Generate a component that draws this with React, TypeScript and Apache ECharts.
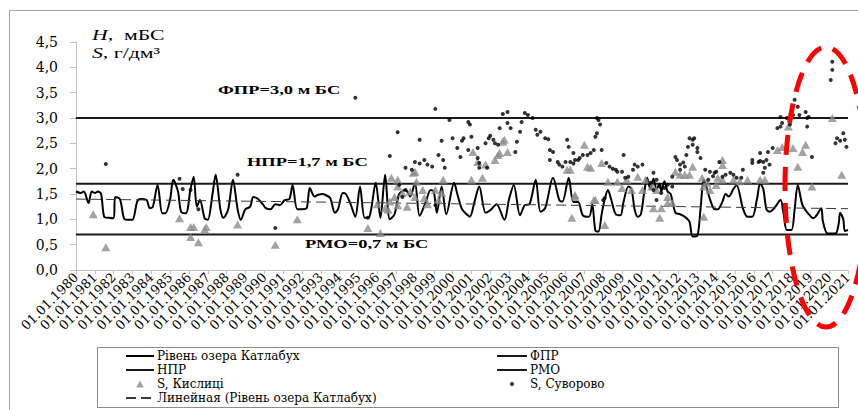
import React, { useEffect, useRef } from 'react';
import * as echarts from 'echarts';

// x values are months counted from 01.01.1980
const START_YEAR = 1980;
const END_MONTH = 492;

const yMin = 0;
const yMax = 4.5;
const yInterval = 0.5;

const fprLevel = 3.0;
const nprLevel = 1.7;
const rmoLevel = 0.7;

const levelData: [number, number][] = [
  [0, 1.55], [3, 1.52], [5, 1.55], [8, 1.32], [10, 1.55], [12, 1.52], [14, 1.55], [16, 1.5], [18, 1.05], [21, 1.03],
  [24, 1.02], [25, 1.44], [28, 1.4], [31, 1.0], [34, 0.99], [36, 0.99], [39, 1.35], [41, 1.4], [45, 1.38], [47, 1.22],
  [49, 1.25], [52, 1.68], [55, 1.12], [57, 1.12], [60, 1.4], [62, 1.78], [65, 1.55], [67, 1.15], [70, 1.12], [73, 1.6],
  [75, 1.84], [77, 1.25], [79, 1.38], [82, 1.02], [84, 0.99], [87, 1.5], [89, 1.88], [92, 1.2], [94, 1.03], [97, 1.2],
  [100, 1.78], [103, 1.2], [105, 0.99], [108, 1.2], [111, 1.25], [113, 1.44], [116, 1.4], [119, 1.3], [121, 1.22], [124, 1.2],
  [127, 1.3], [130, 1.28], [133, 1.38], [136, 1.4], [138, 1.68], [141, 1.2], [144, 1.2], [147, 1.22], [149, 1.62], [152, 1.45],
  [154, 1.48], [157, 1.5], [159, 1.48], [162, 1.42], [165, 1.13], [167, 1.2], [170, 1.52], [172, 1.5], [175, 1.3], [178, 1.05],
  [181, 1.65], [184, 1.03], [187, 1.05], [191, 1.72], [194, 1.03], [197, 1.88], [200, 1.0], [203, 1.1], [206, 1.5], [210, 1.58],
  [213, 1.45], [216, 1.72], [219, 1.07], [223, 1.35], [226, 1.58], [228, 1.55], [230, 1.13], [233, 1.65], [236, 1.1], [241, 1.72],
  [243, 1.5], [246, 1.2], [249, 1.1], [251, 1.05], [254, 1.35], [257, 1.65], [261, 1.13], [264, 1.18], [268, 1.3], [273, 0.99],
  [276, 1.4], [279, 1.68], [283, 1.08], [286, 1.28], [289, 1.3], [293, 1.78], [296, 1.15], [299, 1.22], [304, 1.82], [308, 1.38],
  [310, 1.35], [314, 1.82], [317, 1.34], [320, 1.34], [323, 1.08], [327, 1.05], [329, 1.3], [331, 0.78], [333, 0.76], [335, 1.1],
  [337, 1.4], [339, 1.58], [341, 1.4], [344, 1.1], [347, 1.08], [349, 1.35], [352, 1.65], [354, 1.6], [356, 1.2], [358, 1.05],
  [360, 1.1], [362, 1.5], [364, 1.82], [366, 1.6], [368, 1.8], [370, 1.6], [372, 1.7], [373, 1.55], [375, 1.75], [377, 1.55],
  [379, 1.5], [382, 1.13], [385, 1.1], [388, 1.05], [391, 0.95], [393, 0.66], [396, 0.68], [398, 1.2], [400, 1.78], [401, 1.72],
  [404, 1.4], [407, 1.2], [409, 1.2], [412, 1.35], [414, 1.5], [416, 1.45], [419, 1.6], [421, 1.68], [425, 1.22], [428, 1.05],
  [431, 1.05], [434, 1.4], [436, 1.71], [438, 1.6], [440, 1.2], [442, 1.15], [445, 1.22], [449, 1.38], [451, 1.1], [453, 0.79],
  [456, 0.79], [458, 1.2], [460, 1.68], [463, 1.28], [467, 1.1], [470, 1.02], [472, 1.08], [475, 1.22], [476, 0.96], [479, 0.72],
  [484, 0.72], [486, 0.9], [487, 1.13], [489, 1.0], [490, 0.77], [492, 0.79],
];

const suvorovoData: [number, number][] = [
  [19, 2.09], [66, 1.8], [68, 1.6], [73, 1.58], [78, 1.2], [103, 1.88], [127, 0.83], [178, 3.4], [186, 1.03], [200, 2.25],
  [205, 2.72], [206, 1.68], [208, 1.44], [210, 1.58], [210, 2.02], [214, 1.98], [216, 2.13], [219, 2.57], [219, 2.1], [222, 2.17],
  [224, 2.08], [227, 2.04], [229, 1.28], [229, 3.18], [231, 2.27], [233, 2.55], [234, 2.17], [235, 2.02], [238, 2.96], [240, 2.6],
  [243, 2.41], [245, 2.23], [246, 2.55], [247, 2.6], [250, 2.92], [250, 2.37], [251, 2.87], [252, 2.63], [256, 2.21], [256, 2.41],
  [257, 2.11], [257, 2.02], [261, 2.5], [262, 2.02], [263, 2.6], [264, 2.65], [266, 2.57], [267, 2.5], [269, 2.47], [270, 2.8],
  [272, 3.08], [275, 3.12], [275, 2.9], [277, 2.8], [280, 2.33], [281, 2.53], [283, 2.73], [284, 2.92], [286, 3.1], [288, 3.06],
  [291, 3.0], [293, 2.77], [294, 2.67], [296, 2.73], [299, 2.6], [301, 2.58], [302, 2.37], [302, 2.17], [304, 2.33], [307, 2.13],
  [308, 2.08], [310, 2.04], [312, 2.13], [313, 2.57], [314, 2.43], [315, 2.13], [317, 2.31], [317, 2.1], [318, 2.17], [320, 2.17],
  [321, 2.21], [323, 2.27], [326, 2.27], [328, 2.31], [330, 2.37], [331, 2.63], [332, 2.7], [332, 3.0], [333, 2.96], [334, 2.87],
  [335, 2.37], [336, 1.38], [337, 1.42], [338, 2.11], [340, 2.04], [342, 2.0], [344, 1.98], [345, 1.94], [348, 1.94], [349, 2.27],
  [350, 1.82], [352, 1.84], [355, 1.98], [356, 2.08], [358, 2.04], [361, 2.08], [366, 1.72], [368, 1.92], [368, 1.58], [370, 1.78],
  [370, 1.38], [372, 1.65], [373, 1.52], [375, 1.62], [377, 1.68], [380, 1.65], [380, 1.84], [382, 2.23], [383, 2.17], [385, 2.08],
  [385, 1.98], [387, 2.12], [388, 2.04], [389, 2.27], [390, 2.43], [391, 2.6], [393, 2.57], [393, 2.47], [394, 2.6], [396, 2.41],
  [396, 2.33], [398, 2.21], [401, 1.98], [403, 1.78], [404, 1.94], [406, 1.85], [407, 1.92], [408, 1.94], [410, 2.13], [412, 1.84],
  [414, 1.88], [417, 1.92], [419, 1.88], [421, 1.82], [424, 1.82], [425, 1.98], [431, 2.17], [431, 2.11], [435, 2.13], [436, 2.31],
  [436, 2.15], [438, 2.13], [438, 1.92], [439, 2.02], [440, 2.17], [441, 2.33], [442, 2.08], [444, 2.41], [447, 2.8], [449, 2.83],
  [449, 3.02], [450, 2.9], [453, 3.0], [455, 2.87], [457, 3.06], [458, 3.36], [460, 3.22], [461, 3.06], [465, 3.12], [466, 3.0],
  [466, 2.83], [467, 3.02], [469, 2.23], [481, 3.75], [482, 4.11], [482, 3.95], [484, 2.5], [485, 2.6], [487, 2.55], [489, 2.7],
  [490, 2.57], [491, 2.43],
];

const kyslytsiData: [number, number][] = [
  [11, 1.1], [19, 0.45], [66, 1.02], [73, 0.85], [75, 0.85], [73, 0.65], [78, 0.55], [82, 0.8], [83, 0.85], [103, 0.9],
  [127, 0.5], [141, 1.0], [186, 0.83], [194, 0.73], [201, 1.82], [216, 1.94], [205, 1.65], [208, 1.52], [203, 1.44], [197, 1.22],
  [199, 1.19], [211, 1.25], [216, 1.44], [221, 1.58], [222, 1.42], [229, 1.58], [233, 1.52], [234, 1.78], [231, 1.38], [205, 1.28],
  [217, 1.74], [192, 1.3], [200, 1.35], [213, 1.55], [224, 1.3], [205, 1.78], [215, 1.92], [253, 2.33], [256, 2.13], [261, 2.08],
  [267, 2.17], [269, 2.27], [270, 2.31], [272, 2.53], [273, 2.57], [275, 2.33], [252, 1.78], [259, 1.82], [315, 1.98], [324, 2.47],
  [328, 2.02], [318, 1.44], [316, 1.03], [331, 1.38], [335, 2.11], [339, 1.74], [345, 1.74], [348, 1.62], [351, 1.78], [354, 1.58],
  [358, 1.84], [363, 1.78], [367, 1.65], [370, 1.58], [368, 1.22], [372, 1.03], [377, 1.44], [380, 1.32], [382, 1.94], [385, 1.88],
  [388, 1.88], [391, 1.88], [393, 2.04], [399, 1.82], [400, 1.65], [402, 1.72], [404, 1.58], [400, 1.05], [408, 1.68], [409, 1.82],
  [337, 0.89], [361, 1.58], [313, 1.98], [326, 2.04], [318, 1.48], [330, 1.38], [373, 1.22], [377, 1.32], [412, 2.17], [412, 2.07],
  [412, 1.78], [419, 1.78], [423, 1.75], [428, 1.78], [436, 1.78], [439, 1.78], [447, 2.37], [450, 2.43], [454, 2.83], [457, 2.41],
  [463, 2.33], [465, 2.47], [460, 2.04], [469, 1.65], [482, 3.0], [488, 1.88],
];

const trendData: [number, number][] = [
  [0, 1.4],
  [492, 1.21],
];

const NAME_LEVEL = 'Рівень озера Катлабух';
const NAME_FPR = 'ФПР';
const NAME_NPR = 'НПР';
const NAME_RMO = 'РМО';
const NAME_KYS = 'S, Кислиці';
const NAME_SUV = 'S, Суворово';
const NAME_TREND = 'Линейная (Рівень озера Катлабух)';

const SERIF = '"Liberation Serif", "Times New Roman", serif';
const AXIS_FONT = '"DejaVu Serif", serif';

export default function App() {
  const ref = useRef<HTMLDivElement>(null);

  useEffect(() => {
    if (!ref.current) return;
    const chart = echarts.init(ref.current, null, { renderer: 'svg' });
    const flat = (v: number): [number, number][] => [
      [0, v],
      [END_MONTH, v],
    ];
    const hideSym = { opacity: 0 };
    const legendText = { fontFamily: AXIS_FONT, fontSize: 12, color: '#000', lineHeight: 14, padding: [0, 0, 0, -2] };
    chart.setOption({
      animation: false,
      backgroundColor: '#fff',
      grid: { left: 76, right: 10, top: 42, bottom: 140, containLabel: false },
      xAxis: {
        type: 'value',
        min: 0,
        max: END_MONTH,
        interval: 12,
        axisLine: { show: true, lineStyle: { color: '#bfbfbf', width: 1 } },
        axisTick: { show: true, length: 4, lineStyle: { color: '#bfbfbf' } },
        splitLine: { show: false },
        axisLabel: {
          rotate: 45,
          margin: 5,
          showMinLabel: true,
          showMaxLabel: true,
          color: '#000',
          fontFamily: AXIS_FONT,
          fontSize: 13,
          formatter: (v: number) => '01.01.' + (START_YEAR + Math.round(v / 12)),
        },
      },
      yAxis: {
        type: 'value',
        min: yMin,
        max: yMax,
        interval: yInterval,
        axisLine: { show: true, lineStyle: { color: '#bfbfbf', width: 1 } },
        axisTick: { show: true, length: 6, lineStyle: { color: '#bfbfbf' } },
        splitLine: { show: false },
        axisLabel: {
          margin: 18,
          color: '#000',
          fontFamily: AXIS_FONT,
          fontSize: 14,
          formatter: (v: number) => v.toFixed(1).replace('.', ','),
        },
      },
      legend: [
        {
          orient: 'vertical',
          left: 125,
          top: 349,
          height: 60,
          padding: 0,
          itemWidth: 28,
          itemHeight: 7,
          itemGap: 0,
          selectedMode: false,
          symbolKeepAspect: true,
          textStyle: legendText,
          data: [
            { name: NAME_LEVEL, itemStyle: hideSym },
            { name: NAME_NPR, itemStyle: hideSym },
            { name: NAME_KYS, icon: 'path://M5,0L10,9L0,9Z' },
            { name: NAME_TREND, itemStyle: hideSym },
          ],
        },
        {
          orient: 'vertical',
          left: 496,
          top: 349,
          height: 60,
          padding: 0,
          itemWidth: 30,
          itemHeight: 4,
          itemGap: 0,
          selectedMode: false,
          textStyle: legendText,
          data: [
            { name: NAME_FPR, itemStyle: hideSym },
            { name: NAME_RMO, itemStyle: hideSym },
            { name: NAME_SUV, icon: 'circle' },
          ],
        },
      ],
      series: [
        {
          name: NAME_LEVEL,
          type: 'line',
          data: levelData,
          symbol: 'none',
          smooth: 0.3,
          lineStyle: { color: '#000', width: 2 },
          itemStyle: { color: '#000' },
          z: 3,
        },
        {
          name: NAME_FPR,
          type: 'line',
          data: flat(fprLevel),
          symbol: 'none',
          lineStyle: { color: '#1a1a1a', width: 2 },
          itemStyle: { color: '#1a1a1a' },
          z: 2,
        },
        {
          name: NAME_NPR,
          type: 'line',
          data: flat(nprLevel),
          symbol: 'none',
          lineStyle: { color: '#1a1a1a', width: 2 },
          itemStyle: { color: '#1a1a1a' },
          z: 2,
        },
        {
          name: NAME_RMO,
          type: 'line',
          data: flat(rmoLevel),
          symbol: 'none',
          lineStyle: { color: '#1a1a1a', width: 2 },
          itemStyle: { color: '#1a1a1a' },
          z: 2,
        },
        {
          name: NAME_KYS,
          type: 'scatter',
          data: kyslytsiData,
          symbol: 'triangle',
          symbolSize: [9, 8],
          itemStyle: { color: '#8c8c8c' },
          z: 4,
        },
        {
          name: NAME_SUV,
          type: 'scatter',
          data: suvorovoData,
          symbol: 'circle',
          symbolSize: 4,
          itemStyle: { color: '#000' },
          z: 5,
        },
        {
          name: NAME_TREND,
          type: 'line',
          data: trendData,
          symbol: 'none',
          lineStyle: { color: '#3a3a3a', width: 1, type: [10, 5] },
          itemStyle: { color: '#3a3a3a' },
          z: 3,
        },
      ],
      graphic: [
        {
          type: 'rect',
          silent: true,
          z: -10,
          shape: { x: 9.5, y: 10.5, width: 900, height: 500 },
          style: { fill: 'none', stroke: '#a6a6a6', lineWidth: 1 },
        },
        {
          type: 'rect',
          silent: true,
          z: 1,
          shape: { x: 97.5, y: 347.5, width: 741, height: 60 },
          style: { fill: 'none', stroke: '#8c8c8c', lineWidth: 1 },
        },
        {
          type: 'text',
          x: 92,
          y: 35,
          scaleX: 1.45,
          style: {
            text: '{i|H},  мБС',
            verticalAlign: 'middle',
            fill: '#000',
            fontFamily: SERIF,
            fontSize: 15,
            rich: { i: { fontStyle: 'italic', fontFamily: SERIF, fontSize: 15, fill: '#000' } },
          },
        },
        {
          type: 'text',
          x: 92,
          y: 53,
          scaleX: 1.45,
          style: {
            text: '{i|S}, г/дм³',
            verticalAlign: 'middle',
            fill: '#000',
            fontFamily: SERIF,
            fontSize: 15,
            rich: { i: { fontStyle: 'italic', fontFamily: SERIF, fontSize: 15, fill: '#000' } },
          },
        },
        {
          type: 'text',
          x: 218,
          y: 90,
          scaleX: 1.42,
          z: 10,
          style: { text: 'ФПР=3,0 м БС', verticalAlign: 'middle', fill: '#000', fontFamily: SERIF, fontWeight: 'bold', fontSize: 13 },
        },
        {
          type: 'text',
          x: 247,
          y: 162,
          scaleX: 1.42,
          z: 10,
          style: { text: 'НПР=1,7 м БС', verticalAlign: 'middle', fill: '#000', fontFamily: SERIF, fontWeight: 'bold', fontSize: 13 },
        },
        {
          type: 'text',
          x: 305,
          y: 244,
          scaleX: 1.42,
          z: 10,
          style: { text: 'РМО=0,7 м БС', verticalAlign: 'middle', fill: '#000', fontFamily: SERIF, fontWeight: 'bold', fontSize: 13 },
        },
        {
          type: 'ellipse',
          silent: true,
          z: 100,
          shape: { cx: 826, cy: 187, rx: 41, ry: 140 },
          style: { fill: 'none', stroke: '#ff0000', lineWidth: 5, lineDash: [20, 12] },
        },
      ],
    });
    return () => chart.dispose();
  }, []);

  return (
    <div
      ref={ref}
      style={{ position: 'absolute', left: 0, top: 0, width: 858, height: 410, background: '#fff' }}
    />
  );
}
